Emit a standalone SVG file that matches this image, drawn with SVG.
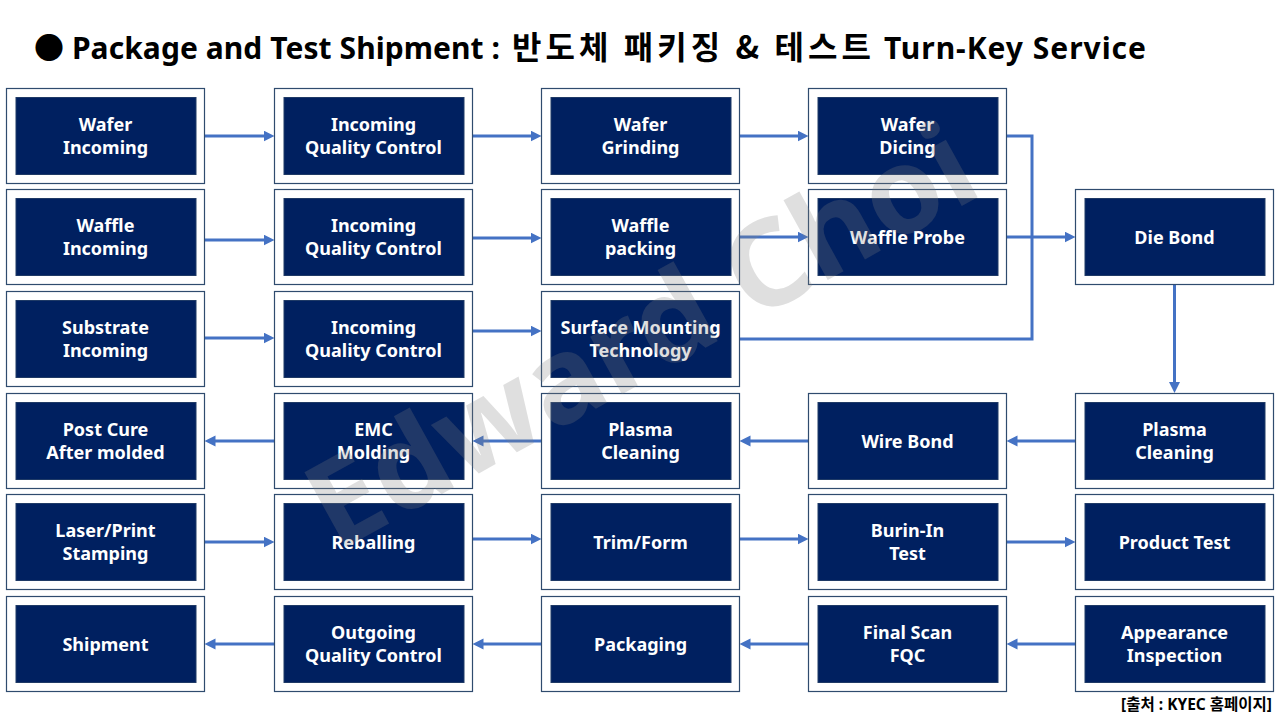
<svg xmlns="http://www.w3.org/2000/svg" width="1280" height="720" viewBox="0 0 1280 720">
<defs>
<style>
.outer{fill:#ffffff;stroke:#2f4b6e;stroke-width:1.2}
.inner{fill:#002060;stroke:#1f3a66;stroke-width:1}
.lbl{font-family:"Noto Sans","Noto Sans CJK KR",sans-serif;font-weight:bold;font-size:18px;fill:#ffffff;text-anchor:middle}
.con{fill:none;stroke:#4472c4;stroke-width:3}
.arr{marker-end:url(#ah)}
.title{font-family:"Noto Sans","Noto Sans CJK KR",sans-serif;font-weight:bold;font-size:30px;fill:#000000}
.ko{font-family:"Noto Sans CJK KR","Noto Sans",sans-serif;font-size:32px}
.src{font-family:"Noto Sans","Noto Sans CJK KR",sans-serif;font-weight:bold;font-size:15.5px;fill:#000000;text-anchor:end}
.wm{font-family:"Noto Sans",sans-serif;font-weight:bold;font-size:120px;fill:#7f7f7f;fill-opacity:0.25;text-anchor:middle}
</style>
<marker id="ah" markerUnits="userSpaceOnUse" markerWidth="12" markerHeight="12" refX="3" refY="5.5" orient="auto">
<path d="M0,0 L11,5.5 L0,11 z" fill="#4472c4"/>
</marker>
</defs>
<rect width="1280" height="720" fill="#ffffff"/>
<text class="title" y="59"><tspan x="34" textLength="466" lengthAdjust="spacing">● Package and Test Shipment :</tspan><tspan class="ko" x="512" textLength="359" lengthAdjust="spacing">반도체 패키징 &amp; 테스트</tspan><tspan x="884" textLength="262" lengthAdjust="spacing">Turn-Key Service</tspan></text>

<g id="connectors">
<path class="con arr" d="M204.5,136 H266.5"/>
<path class="con arr" d="M472.5,136 H533.5"/>
<path class="con arr" d="M739.5,136 H800.5"/>
<path class="con" d="M1006.5,136 H1032 V339 H739.5"/>
<path class="con arr" d="M204.5,240 H266.5"/>
<path class="con arr" d="M472.5,238 H533.5"/>
<path class="con arr" d="M739.5,237 H800.5"/>
<path class="con arr" d="M1006.5,237 H1067.5"/>
<path class="con arr" d="M204.5,338 H266.5"/>
<path class="con arr" d="M472.5,331 H533.5"/>
<path class="con arr" d="M1174.5,285 V385"/>
<path class="con arr" d="M1075.5,441 H1014.5"/>
<path class="con arr" d="M808.5,441 H747.5"/>
<path class="con arr" d="M541.5,441 H480.5"/>
<path class="con arr" d="M274.5,441 H212.5"/>
<path class="con arr" d="M204.5,542 H266.5"/>
<path class="con arr" d="M472.5,539 H533.5"/>
<path class="con arr" d="M739.5,539 H800.5"/>
<path class="con arr" d="M1006.5,542 H1067.5"/>
<path class="con arr" d="M1075.5,644 H1014.5"/>
<path class="con arr" d="M808.5,644 H747.5"/>
<path class="con arr" d="M541.5,644 H480.5"/>
<path class="con arr" d="M274.5,644 H212.5"/>
</g>

<g id="n-wafer-incoming"><rect class="outer" x="6.5" y="88.5" width="198" height="95"/><rect class="inner" x="16" y="97.5" width="180" height="77"/><text class="lbl" x="105.5" y="131">Wafer</text><text class="lbl" x="105.5" y="154">Incoming</text></g>
<g id="n-iqc-1"><rect class="outer" x="274.5" y="88.5" width="198" height="95"/><rect class="inner" x="284" y="97.5" width="180" height="77"/><text class="lbl" x="373.5" y="131">Incoming</text><text class="lbl" x="373.5" y="154">Quality Control</text></g>
<g id="n-wafer-grinding"><rect class="outer" x="541.5" y="88.5" width="198" height="95"/><rect class="inner" x="551" y="97.5" width="180" height="77"/><text class="lbl" x="640.5" y="131">Wafer</text><text class="lbl" x="640.5" y="154">Grinding</text></g>
<g id="n-wafer-dicing"><rect class="outer" x="808.5" y="88.5" width="198" height="95"/><rect class="inner" x="818" y="97.5" width="180" height="77"/><text class="lbl" x="907.5" y="131">Wafer</text><text class="lbl" x="907.5" y="154">Dicing</text></g>

<g id="n-waffle-incoming"><rect class="outer" x="6.5" y="189.5" width="198" height="95"/><rect class="inner" x="16" y="198.5" width="180" height="77"/><text class="lbl" x="105.5" y="232">Waffle</text><text class="lbl" x="105.5" y="255">Incoming</text></g>
<g id="n-iqc-2"><rect class="outer" x="274.5" y="189.5" width="198" height="95"/><rect class="inner" x="284" y="198.5" width="180" height="77"/><text class="lbl" x="373.5" y="232">Incoming</text><text class="lbl" x="373.5" y="255">Quality Control</text></g>
<g id="n-waffle-packing"><rect class="outer" x="541.5" y="189.5" width="198" height="95"/><rect class="inner" x="551" y="198.5" width="180" height="77"/><text class="lbl" x="640.5" y="232">Waffle</text><text class="lbl" x="640.5" y="255">packing</text></g>
<g id="n-waffle-probe"><rect class="outer" x="808.5" y="189.5" width="198" height="95"/><rect class="inner" x="818" y="198.5" width="180" height="77"/><text class="lbl" x="907.5" y="244">Waffle Probe</text></g>
<g id="n-die-bond"><rect class="outer" x="1075.5" y="189.5" width="198" height="95"/><rect class="inner" x="1085" y="198.5" width="180" height="77"/><text class="lbl" x="1174.5" y="244">Die Bond</text></g>

<g id="n-substrate-incoming"><rect class="outer" x="6.5" y="291.5" width="198" height="95"/><rect class="inner" x="16" y="300.5" width="180" height="77"/><text class="lbl" x="105.5" y="334">Substrate</text><text class="lbl" x="105.5" y="357">Incoming</text></g>
<g id="n-iqc-3"><rect class="outer" x="274.5" y="291.5" width="198" height="95"/><rect class="inner" x="284" y="300.5" width="180" height="77"/><text class="lbl" x="373.5" y="334">Incoming</text><text class="lbl" x="373.5" y="357">Quality Control</text></g>
<g id="n-smt"><rect class="outer" x="541.5" y="291.5" width="198" height="95"/><rect class="inner" x="551" y="300.5" width="180" height="77"/><text class="lbl" x="640.5" y="334">Surface Mounting</text><text class="lbl" x="640.5" y="357">Technology</text></g>

<g id="n-post-cure"><rect class="outer" x="6.5" y="393.5" width="198" height="95"/><rect class="inner" x="16" y="402.5" width="180" height="77"/><text class="lbl" x="105.5" y="436">Post Cure</text><text class="lbl" x="105.5" y="459">After molded</text></g>
<g id="n-emc-molding"><rect class="outer" x="274.5" y="393.5" width="198" height="95"/><rect class="inner" x="284" y="402.5" width="180" height="77"/><text class="lbl" x="373.5" y="436">EMC</text><text class="lbl" x="373.5" y="459">Molding</text></g>
<g id="n-plasma-2"><rect class="outer" x="541.5" y="393.5" width="198" height="95"/><rect class="inner" x="551" y="402.5" width="180" height="77"/><text class="lbl" x="640.5" y="436">Plasma</text><text class="lbl" x="640.5" y="459">Cleaning</text></g>
<g id="n-wire-bond"><rect class="outer" x="808.5" y="393.5" width="198" height="95"/><rect class="inner" x="818" y="402.5" width="180" height="77"/><text class="lbl" x="907.5" y="448">Wire Bond</text></g>
<g id="n-plasma-1"><rect class="outer" x="1075.5" y="393.5" width="198" height="95"/><rect class="inner" x="1085" y="402.5" width="180" height="77"/><text class="lbl" x="1174.5" y="436">Plasma</text><text class="lbl" x="1174.5" y="459">Cleaning</text></g>

<g id="n-laser"><rect class="outer" x="6.5" y="494.5" width="198" height="95"/><rect class="inner" x="16" y="503.5" width="180" height="77"/><text class="lbl" x="105.5" y="537">Laser/Print</text><text class="lbl" x="105.5" y="560">Stamping</text></g>
<g id="n-reballing"><rect class="outer" x="274.5" y="494.5" width="198" height="95"/><rect class="inner" x="284" y="503.5" width="180" height="77"/><text class="lbl" x="373.5" y="549">Reballing</text></g>
<g id="n-trim-form"><rect class="outer" x="541.5" y="494.5" width="198" height="95"/><rect class="inner" x="551" y="503.5" width="180" height="77"/><text class="lbl" x="640.5" y="549">Trim/Form</text></g>
<g id="n-burin"><rect class="outer" x="808.5" y="494.5" width="198" height="95"/><rect class="inner" x="818" y="503.5" width="180" height="77"/><text class="lbl" x="907.5" y="537">Burin-In</text><text class="lbl" x="907.5" y="560">Test</text></g>
<g id="n-product-test"><rect class="outer" x="1075.5" y="494.5" width="198" height="95"/><rect class="inner" x="1085" y="503.5" width="180" height="77"/><text class="lbl" x="1174.5" y="549">Product Test</text></g>

<g id="n-shipment"><rect class="outer" x="6.5" y="596.5" width="198" height="95"/><rect class="inner" x="16" y="605.5" width="180" height="77"/><text class="lbl" x="105.5" y="651">Shipment</text></g>
<g id="n-oqc"><rect class="outer" x="274.5" y="596.5" width="198" height="95"/><rect class="inner" x="284" y="605.5" width="180" height="77"/><text class="lbl" x="373.5" y="639">Outgoing</text><text class="lbl" x="373.5" y="662">Quality Control</text></g>
<g id="n-packaging"><rect class="outer" x="541.5" y="596.5" width="198" height="95"/><rect class="inner" x="551" y="605.5" width="180" height="77"/><text class="lbl" x="640.5" y="651">Packaging</text></g>
<g id="n-final-scan"><rect class="outer" x="808.5" y="596.5" width="198" height="95"/><rect class="inner" x="818" y="605.5" width="180" height="77"/><text class="lbl" x="907.5" y="639">Final Scan</text><text class="lbl" x="907.5" y="662">FQC</text></g>
<g id="n-appearance"><rect class="outer" x="1075.5" y="596.5" width="198" height="95"/><rect class="inner" x="1085" y="605.5" width="180" height="77"/><text class="lbl" x="1174.5" y="639">Appearance</text><text class="lbl" x="1174.5" y="662">Inspection</text></g>

<text class="src" x="1272" y="710">[출처 : KYEC 홈페이지]</text>
<text class="wm" x="640" y="378" transform="rotate(-29 640 335)">Edward Choi</text>
</svg>
